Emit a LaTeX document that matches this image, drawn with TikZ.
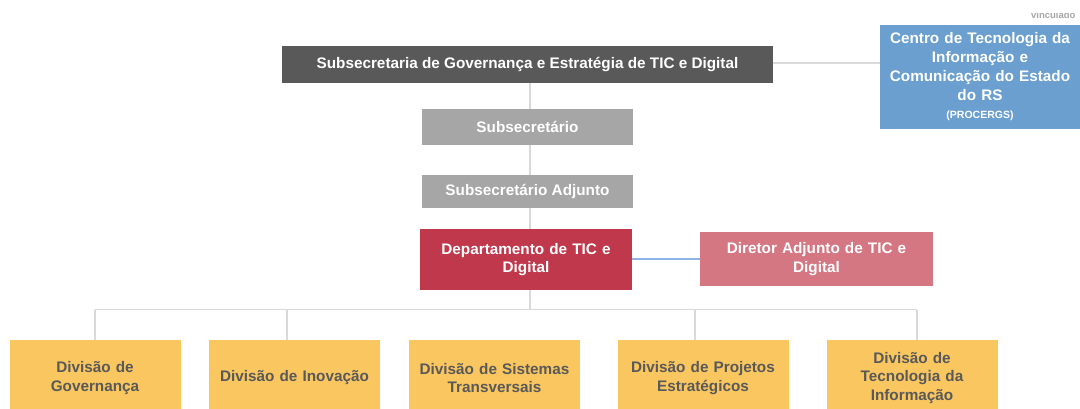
\documentclass[tikz,border=0pt]{standalone}
\usepackage{fontspec}
\setmainfont{Liberation Sans}
\definecolor{cdark}{HTML}{595959}
\definecolor{cgray}{HTML}{A6A6A6}
\definecolor{ccrim}{HTML}{C0384C}
\definecolor{cpink}{HTML}{D57783}
\definecolor{cblue}{HTML}{6A9FD0}
\definecolor{cyel}{HTML}{FAC660}
\definecolor{cline}{HTML}{D9D9D9}
\definecolor{cblln}{HTML}{8DB4E2}
\tikzset{
  box/.style={inner sep=0pt, align=center, font=\fontsize{15.3}{18.3}\selectfont\bfseries},
  wbox/.style={box, text=white},
  divbox/.style={box, fill=cyel, text=cdark, minimum width=171pt, minimum height=76pt, text width=168pt},
  conn/.style={draw=cline, line width=1.3pt},
}
\begin{document}
\begin{tikzpicture}[x=1pt,y=-1pt]
\clip (0,0) rectangle (1080,408);
\fill[white] (0,0) rectangle (1080,408);
\node[anchor=base east, text=cgray, font=\fontsize{9.5}{9.5}\selectfont\bfseries] (vinc) at (1079,18) {vinculado};
\fill[white] (1000,0) rectangle (1080,13);
\node[wbox, fill=cdark, minimum width=491pt, minimum height=37pt] (top) at (527.5,64.5) {Subsecretaria de Governança e Estratégia de TIC e Digital};
\node[wbox, fill=cgray, minimum width=211pt, minimum height=36pt] (sub) at (527.5,127) {Subsecretário};
\node[wbox, fill=cgray, minimum width=211pt, minimum height=33pt] (adj) at (527.5,191.5) {Subsecretário Adjunto};
\node[wbox, fill=ccrim, minimum width=212pt, minimum height=61pt, text width=208pt] (dept) at (526,259.5) {Departamento de TIC e\\Digital};
\node[wbox, fill=cpink, minimum width=233pt, minimum height=54pt, text width=228pt] (dir) at (816.5,259) {Diretor Adjunto de TIC e\\Digital};
\node[wbox, fill=cblue, minimum width=200pt, minimum height=104pt, text width=198pt, font=\fontsize{15.3}{19}\selectfont\bfseries] (proc) at (980,77) {Centro de Tecnologia da\\Informação e\\Comunicação do Estado\\do RS\\[-1pt]{\fontsize{10.5}{14}\selectfont(PROCERGS)}};
\node[divbox] (d1) at (95,378) {Divisão de\\Governança};
\node[divbox] (d2) at (294.5,378) {Divisão de Inovação};
\node[divbox] (d3) at (494.5,378) {Divisão de Sistemas\\Transversais};
\node[divbox] (d4) at (703,378) {Divisão de Projetos\\Estratégicos};
\node[divbox] (d5) at (912,378) {Divisão de\\Tecnologia da\\Informação};
\coordinate (bus) at (530,309.5);
\coordinate (busL) at (95,309.5);
\coordinate (busR) at (917,309.5);
\draw[conn] (top.south -| bus) -- (sub.north -| bus);
\draw[conn] (sub.south -| bus) -- (adj.north -| bus);
\draw[conn] (adj.south -| bus) -- (dept.north -| bus);
\draw[conn] (dept.south -| bus) -- (bus);
\draw[conn] (busL) -- (busR);
\draw[conn] (busL) -- (d1.north -| busL);
\draw[conn] (busL -| 287,0) -- (d2.north -| 287,0);
\draw[conn] (busL -| 695,0) -- (d4.north -| 695,0);
\draw[conn] (busR) -- (d5.north -| busR);
\draw[draw=cblln, line width=1.3pt] (dept.east |- 0,259) -- (dir.west |- 0,259);
\draw[conn] (top.east |- 0,63) -- (proc.west |- 0,63);
\end{tikzpicture}
\end{document}
